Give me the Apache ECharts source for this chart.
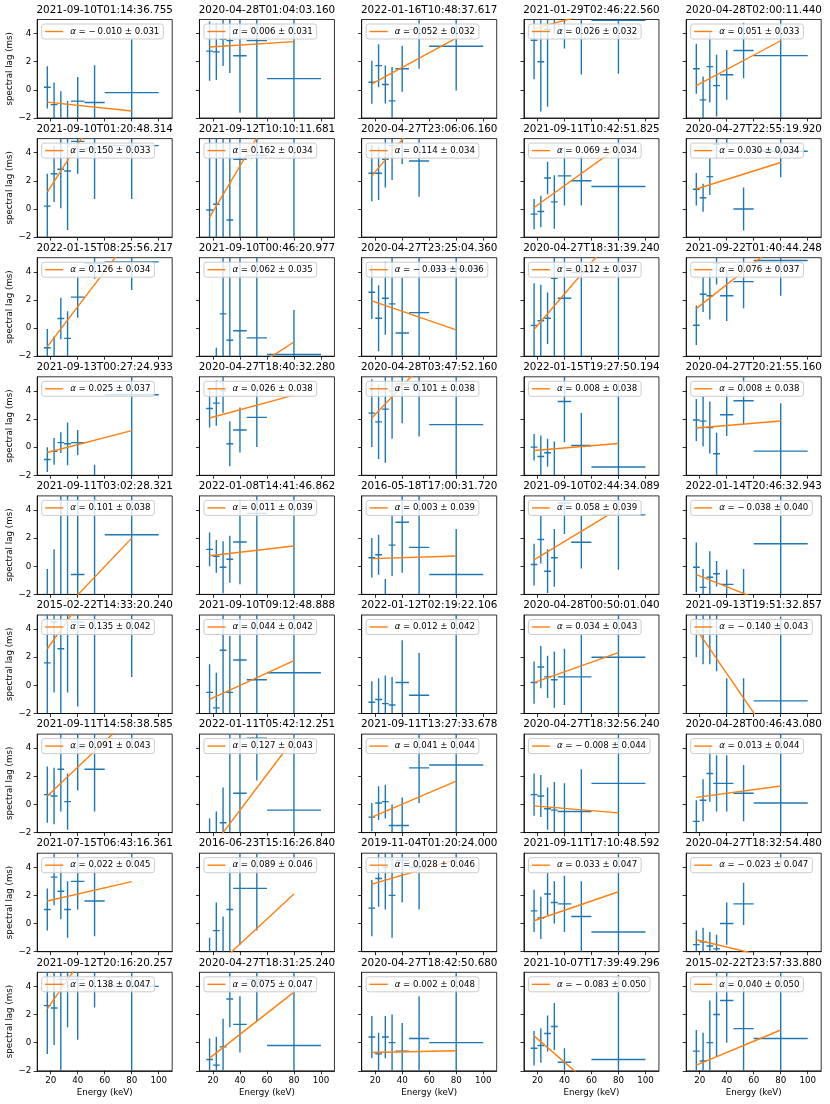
<!DOCTYPE html>
<html><head><meta charset="utf-8">
<script src="https://cdn.jsdelivr.net/npm/echarts@6/dist/echarts.min.js"></script>
<style>html,body{margin:0;padding:0;background:#fff}#c{width:830px;height:1104px}</style>
</head><body><div id="c"></div><script>
// ---------- data ----------
const ENERGY = [17.5, 22.5, 27.5, 32.5, 40, 52.5, 80];
const ENERGY_HALF_WIDTH = [2.5, 2.5, 2.5, 2.5, 5, 7.5, 20];
const X_TICKS = [20, 40, 60, 80, 100];
const Y_TICKS = [-2, 0, 2, 4];
const TITLES = [
 '2021-09-10T01:14:36.755','2020-04-28T01:04:03.160','2022-01-16T10:48:37.617','2021-01-29T02:46:22.560','2020-04-28T02:00:11.440',
 '2021-09-10T01:20:48.314','2021-09-12T10:10:11.681','2020-04-27T23:06:06.160','2021-09-11T10:42:51.825','2020-04-27T22:55:19.920',
 '2022-01-15T08:25:56.217','2021-09-10T00:46:20.977','2020-04-27T23:25:04.360','2020-04-27T18:31:39.240','2021-09-22T01:40:44.248',
 '2021-09-13T00:27:24.933','2020-04-27T18:40:32.280','2020-04-28T03:47:52.160','2022-01-15T19:27:50.194','2020-04-27T20:21:55.160',
 '2021-09-11T03:02:28.321','2022-01-08T14:41:46.862','2016-05-18T17:00:31.720','2021-09-10T02:44:34.089','2022-01-14T20:46:32.943',
 '2015-02-22T14:33:20.240','2021-09-10T09:12:48.888','2022-01-12T02:19:22.106','2020-04-28T00:50:01.040','2021-09-13T19:51:32.857',
 '2021-09-11T14:58:38.585','2022-01-11T05:42:12.251','2021-09-11T13:27:33.678','2020-04-27T18:32:56.240','2020-04-28T00:46:43.080',
 '2021-07-15T06:43:16.361','2016-06-23T15:16:26.840','2019-11-04T01:20:24.000','2021-09-11T17:10:48.592','2020-04-27T18:32:54.480',
 '2021-09-12T20:16:20.257','2020-04-27T18:31:25.240','2020-04-27T18:42:50.680','2021-10-07T17:39:49.296','2015-02-22T23:57:33.880'
];
const ALPHA = [
 -0.010, 0.006, 0.052, 0.026, 0.051,
 0.150, 0.162, 0.114, 0.069, 0.030,
 0.126, 0.062, -0.033, 0.112, 0.076,
 0.025, 0.026, 0.101, 0.008, 0.008,
 0.101, 0.011, 0.003, 0.058, -0.038,
 0.135, 0.044, 0.012, 0.034, -0.140,
 0.091, 0.127, 0.041, -0.008, 0.013,
 0.022, 0.089, 0.028, 0.033, -0.023,
 0.138, 0.075, 0.002, -0.083, 0.040
];
const ALPHA_ERR = [
 0.031, 0.031, 0.032, 0.032, 0.033,
 0.033, 0.034, 0.034, 0.034, 0.034,
 0.034, 0.035, 0.036, 0.037, 0.037,
 0.037, 0.038, 0.038, 0.038, 0.038,
 0.038, 0.039, 0.039, 0.039, 0.040,
 0.042, 0.042, 0.042, 0.043, 0.043,
 0.043, 0.043, 0.044, 0.044, 0.044,
 0.045, 0.046, 0.046, 0.047, 0.047,
 0.047, 0.047, 0.048, 0.050, 0.050
];
const LAG = [
 [0.18,-1.05,-2.1,-2.3,-0.8,-0.9,-0.2],
 [2.75,2.7,3.6,3.5,2.42,3.5,0.8],
 [0.54,1.72,0.38,-0.78,1.5,4.3,3.1],
 [3.53,2.0,4.3,6.0,5.5,5.2,4.94],
 [1.5,-0.71,1.65,0.3,1.07,2.8,2.43],
 [0.2,2.5,2.82,2.7,4.8,4.3,4.5],
 [-0.07,0.33,5.5,-0.78,3.53,3.8,6],
 [2.54,2.54,3.53,4.5,5.5,3.41,7],
 [-0.37,-0.18,2.2,0.5,2.35,2.0,1.6],
 [1.4,0.8,2.3,4.6,5.5,0,4.1],
 [-1.4,-2.1,0.68,-0.73,2.2,4.6,4.7],
 [-5,-3.0,1.01,-0.87,-0.19,-0.7,-1.88],
 [2.54,0.7,2.12,1.72,-0.35,1.1,4.2],
 [0.19,0.52,0.7,3.53,2.12,3.95,6],
 [0.2,2.4,2.3,4.6,2.3,3.3,4.8],
 [-0.88,-0.3,0.32,0.24,0.32,-2.6,3.72],
 [2.75,3.13,4.0,0.24,1.22,2.12,6],
 [2.42,1.8,2.7,4.0,4.5,4.5,1.6],
 [0,-0.66,-0.4,-2.2,3.25,0.12,-1.41],
 [1.93,1.85,1.4,-0.47,2.3,3.3,-0.28],
 [-2.5,-2.5,-3,6,-0.59,6,2.24],
 [1.2,0.7,-0.07,0.5,1.72,3.76,6],
 [0.6,0.82,-2.6,1.5,3.13,1.34,-0.59],
 [0.12,1.9,-0.35,0.6,4.5,1.71,3.65],
 [-0.07,-1.5,-0.78,-0.53,-1.29,-2.4,1.6],
 [1.6,4.5,2.6,5.5,4.5,6,5.5],
 [-0.5,-1.6,2.5,-0.5,1.8,0.4,0.9],
 [-1.2,-1.0,-1.3,-1.4,0.2,-0.7,6],
 [0.2,1.3,0.6,0.4,0.6,0.6,2.0],
 [5.5,5.5,5.5,5.5,-2.5,-2.5,-1.1],
 [0.7,0.6,2.5,0.2,4,2.5,6],
 [-3,-2.5,-1.3,5.5,0.8,4.7,-0.4],
 [-0.9,0.1,0.2,-1.5,-1.5,2.6,2.8],
 [0.7,0.6,-0.3,-0.4,-0.5,-0.5,1.5],
 [-1.2,0.3,2.2,1.5,1.5,0.8,0.1],
 [1.0,3.3,2.3,1.0,3.0,1.6,6],
 [-3,-0.5,-2.5,1,2.5,2.5,6],
 [1.1,3.2,4,2,4.5,4,6],
 [0.9,0.4,2.1,1.5,1.4,0.5,-0.6],
 [-1.5,-1.3,-1.6,-1.8,0,1.4,6],
 [2.63,2.46,4.5,4.5,4.5,5.5,4],
 [-1.2,-1.6,-0.3,3.1,1.3,4.5,-0.2],
 [0.4,-0.8,0.4,0,-0.6,0.3,0.0],
 [-0.4,-0.2,0.65,1.15,-1.39,-4,-1.2],
 [-0.6,-1.3,0,2,3,1,0.3]
];
const LAG_ERR = [
 [1.5,1.57,2.0,1.5,1.72,2.65,3.8],
 [2.1,2.0,1.9,2.3,4.05,6,6],
 [1.53,1.53,1.35,2.4,1.63,2.8,3.15],
 [2.78,3.53,5.5,2.0,2.56,4.1,3.8],
 [1.78,1.66,2.55,2.2,1.77,1.97,6],
 [2.3,2.0,2.77,4.2,2.3,3.6,3.8],
 [6,5.5,8,6,6,6.5,9],
 [2.0,1.9,2.0,2.45,2.3,2.55,1.5],
 [1.08,1.12,1.15,1.9,2.1,1.75,5],
 [1.15,1.0,1.3,1.0,1.15,1.53,1.85],
 [1.33,1.5,1.47,1.92,1.47,1.1,2.0],
 [2,1.6,6,6,6,6,3.17],
 [1.9,2.35,2.6,4,3.9,5,8],
 [3.0,2.55,1.83,5.6,4.5,6,9],
 [1.4,1.25,1.7,1.5,1.8,1.9,2.5],
 [0.88,0.95,0.74,1.52,0.9,1.35,6],
 [1.35,1.6,1.55,1.6,1.6,2.1,0.8],
 [2.4,2.65,3.8,3.4,2.8,3.75,5],
 [0.94,1.48,1.0,2.6,2.9,2.3,6],
 [1.5,1.8,1.85,1.5,1.5,1.7,3.4],
 [2.3,3.7,8,9,6,8,6],
 [1.2,1.17,1.85,1.67,3.0,6,9],
 [1.4,1.42,1.7,2.2,3.6,4.5,3.23],
 [1.48,1.7,1.55,2.05,2.2,1.87,3.9],
 [1.76,1.3,1.85,0.9,1.05,2.2,6],
 [4.5,5,5,6,6,8,4.9],
 [2,2.5,5,4,5,6,6],
 [1.5,1.5,2,2,3,3,9],
 [1.5,1.5,1.5,2,2,3,6],
 [3.5,4,4,4.5,3,3,6],
 [2,2,3,2,3,3,2],
 [2,2,2.5,8,6,3,6],
 [1,1.2,1.2,1.5,2,2.5,6],
 [1.5,1.5,1.5,2,2,3,6],
 [1.5,1.5,2,2,2,2,6],
 [1.5,2,2,2,2,2.5,2],
 [2,2,3,3,4,3,2],
 [2,2,3,3,3,3,2],
 [1.5,1.5,1.5,1.5,2,2.5,6],
 [1,1,1,1,1.5,1.5,2],
 [3.44,2.63,7,3.4,4.3,3,8],
 [1.5,2,2,2,2,3,6],
 [1.5,1.5,1.5,2,2,3,6],
 [1.22,1.23,1.28,1.67,1.0,1,6],
 [1.5,2,3,3,3,3,6]
];
// fitted line, value at E = 17.5 keV and at E = 80 keV
const FIT_START = [
 -0.87, 3.05, 0.42, 4.35, 0.30,
 1.20, -0.60, 2.35, 0.10, 1.42,
 -1.32, -4.86, 1.93, -0.10, 1.38,
 -0.38, 2.07, 2.07, -0.24, 1.36,
 -4.31, 0.75, 0.54, 0.45, -0.60,
 2.60, -1.00, -3.00, 0.20, 4.00,
 0.60, -3.27, -0.90, -0.10, 0.50,
 1.60, -3.46, 2.80, 0.20, -1.15,
 2.40, -1.10, -0.70, 0.48, -1.60
];
const FIT_END = [
 -1.50, 3.43, 3.67, 5.98, 3.49,
 10.58, 9.53, 9.48, 4.41, 3.30,
 6.56, -0.99, -0.13, 6.90, 6.13,
 1.18, 3.70, 8.38, 0.26, 1.86,
 2.00, 1.44, 0.73, 4.08, -2.98,
 11.04, 1.75, -2.25, 2.33, -4.75,
 6.29, 4.67, 1.66, -0.60, 1.31,
 2.98, 2.10, 4.55, 2.26, -2.59,
 11.03, 3.59, -0.58, -4.71, 0.90
];
// ---------- layout / style ----------
const NCOL = 5, NROW = 9;
const X_MIN = 10, X_MAX = 110, Y_MIN = -2, Y_MAX = 5;
const BLUE = '#1f77b4', ORANGE = '#ff7f0e';
const FONT = 'DejaVu Sans';
const GL = 37.2, GDX = 162.25, GT = 19.5, GDY = 119.1, GW = 135, GH = 98.5;
const LW = 1.4;
const minus = v => v < 0 ? '\u2212' + Math.abs(v) : String(v);
const fmtA = v => (v < 0 ? '\u2212\u2009' : '') + Math.abs(v).toFixed(3);

function renderErr(params, api) {
  const x = api.value(0), y = api.value(1), xe = api.value(2), ye = api.value(3);
  const children = [];
  const lo = Math.max(y - ye, Y_MIN), hi = Math.min(y + ye, Y_MAX);
  const st = {stroke: BLUE, lineWidth: LW};
  if (lo < hi) {
    const p1 = api.coord([x, lo]), p2 = api.coord([x, hi]);
    children.push({type: 'line', shape: {x1: p1[0], y1: p1[1], x2: p2[0], y2: p2[1]}, style: st});
  }
  if (y >= Y_MIN && y <= Y_MAX) {
    const a = api.coord([x - xe, y]), b = api.coord([x + xe, y]);
    children.push({type: 'line', shape: {x1: a[0], y1: a[1], x2: b[0], y2: b[1]}, style: st});
  }
  return {type: 'group', children};
}

const grid = [], xAxis = [], yAxis = [], series = [], legend = [], title = [];
const LABELS = {};
for (let i = 0; i < NCOL * NROW; i++) {
  const r = Math.floor(i / NCOL), c = i % NCOL;
  const left = GL + GDX * c, top = GT + GDY * r;
  grid.push({left, top, width: GW, height: GH, show: true, borderColor: '#000', borderWidth: 0.8, backgroundColor: 'transparent'});
  const bottomRow = r === NROW - 1, leftCol = c === 0;
  xAxis.push({
    type: 'value', gridIndex: i, min: X_MIN, max: X_MAX,
    axisLine: {show: true, onZero: false, lineStyle: {color: '#000', width: 0.8}},
    axisTick: {show: true, length: 3.5, lineStyle: {color: '#000', width: 0.8}, customValues: X_TICKS},
    axisLabel: {show: bottomRow, customValues: X_TICKS, margin: 5, fontSize: 8.7, fontFamily: FONT, color: '#000'},
    splitLine: {show: false},
    name: bottomRow ? 'Energy (keV)' : '', nameLocation: 'middle', nameGap: 17,
    nameTextStyle: {fontSize: 8.7, fontFamily: FONT, color: '#000'}
  });
  yAxis.push({
    type: 'value', gridIndex: i, min: Y_MIN, max: Y_MAX,
    axisLine: {show: true, onZero: false, lineStyle: {color: '#000', width: 0.8}},
    axisTick: {show: true, length: 3.5, lineStyle: {color: '#000', width: 0.8}, customValues: Y_TICKS},
    axisLabel: {show: leftCol, customValues: Y_TICKS, margin: 6, fontSize: 8.7, fontFamily: FONT, color: '#000', formatter: minus},
    splitLine: {show: false},
    name: leftCol ? 'spectral lag (ms)' : '', nameLocation: 'middle', nameGap: 22, nameRotate: 90,
    nameTextStyle: {fontSize: 8.7, fontFamily: FONT, color: '#000'}
  });
  title.push({
    text: TITLES[i], left: left + GW / 2, top: top - 14.5, textAlign: 'center', padding: 0,
    textStyle: {fontSize: 10.4, fontWeight: 'normal', fontFamily: FONT, color: '#000'}
  });
  const data = ENERGY.map((e, k) => [e, LAG[i][k], ENERGY_HALF_WIDTH[k], LAG_ERR[i][k]]);
  series.push({
    type: 'custom', xAxisIndex: i, yAxisIndex: i, renderItem: renderErr, data,
    encode: {x: 0, y: 1}, clip: true, silent: true, z: 2
  });
  const fitName = 'fit' + i;
  LABELS[fitName] = '{a|\u03b1} = ' + fmtA(ALPHA[i]) + ' \u00b1 ' + ALPHA_ERR[i].toFixed(3);
  series.push({
    type: 'line', name: fitName, xAxisIndex: i, yAxisIndex: i,
    data: [[ENERGY[0], FIT_START[i]], [ENERGY[ENERGY.length - 1], FIT_END[i]]],
    symbol: 'none', showSymbol: false, clip: true, silent: true, z: 3,
    color: ORANGE, itemStyle: {color: ORANGE}, lineStyle: {color: ORANGE, width: LW}
  });
  legend.push({
    data: [{name: fitName, icon: 'rect'}], left: left + 4.5, top: top + 4.5,
    itemWidth: 18, itemHeight: 1.4, itemGap: 0, selectedMode: false,
    padding: [3, 4, 3, 3.5], backgroundColor: 'rgba(255,255,255,0.8)',
    borderColor: '#cccccc', borderWidth: 1, borderRadius: 2.5,
    formatter: n => LABELS[n],
    textStyle: {fontSize: 8.6, fontFamily: FONT, color: '#000', padding: [0, 0, 0, 2],
      rich: {a: {fontStyle: 'italic', fontSize: 8.6, fontFamily: FONT, color: '#000'}}}
  });
}
const chart = echarts.init(document.getElementById('c'), null, {renderer: 'canvas'});
chart.setOption({animation: false, backgroundColor: '#fff', grid, xAxis, yAxis, series, legend, title});
</script></body></html>
